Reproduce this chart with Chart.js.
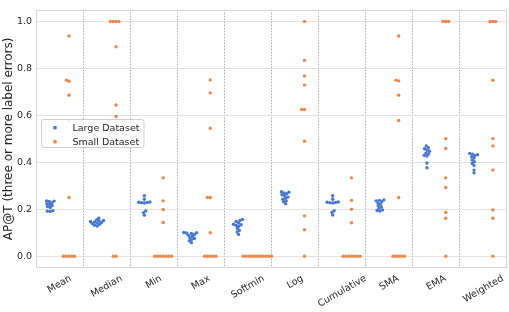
<!DOCTYPE html>
<html><head><meta charset="utf-8">
<script src="https://cdn.jsdelivr.net/npm/chart.js@4/dist/chart.umd.min.js"></script>
<style>html,body{margin:0;padding:0;background:#fff}#wrap{width:509px;height:312px}</style>
</head><body><div id="wrap"><canvas id="c" width="509" height="312"></canvas></div>
<script>
const categories = ['Mean','Median','Min','Max','Softmin','Log','Cumulative','SMA','EMA','Weighted'];
const seriesNames = ['Large Dataset','Small Dataset'];
const yTitle = 'AP@T (three or more label errors)';
const yTickValues = [0, 0.2, 0.4, 0.6, 0.8, 1.0];
const yTickLabels = ['0.0','0.2','0.4','0.6','0.8','1.0'];

const largeMean = [0.236,0.235,0.233,0.228,0.224,0.221,0.216,0.212,0.208,0.194,0.192,0.191];
const largeMedian = [0.162,0.155,0.152,0.150,0.148,0.146,0.144,0.142,0.139,0.136,0.132,0.129];
const largeMin = [0.258,0.243,0.231,0.230,0.229,0.228,0.227,0.193,0.186,0.175];
const largeMax = [0.101,0.100,0.099,0.097,0.093,0.090,0.085,0.080,0.076,0.072,0.066,0.058];
const largeSoftmin = [0.157,0.152,0.148,0.142,0.136,0.134,0.131,0.128,0.118,0.110,0.103,0.093];
const largeLog = [0.275,0.273,0.270,0.266,0.262,0.258,0.252,0.247,0.243,0.236,0.232,0.224];
const largeCumulative = [0.258,0.243,0.231,0.230,0.229,0.228,0.227,0.194,0.187,0.176];
const largeSMA = [0.240,0.238,0.236,0.232,0.227,0.222,0.215,0.210,0.204,0.197,0.195,0.193];
const largeEMA = [0.470,0.462,0.458,0.452,0.447,0.440,0.436,0.430,0.427,0.397,0.377];
const largeWeighted = [0.438,0.435,0.432,0.429,0.424,0.418,0.410,0.403,0.395,0.386,0.367,0.355];

const smallMean = [0.938,0.75,0.745,0.686,0.578,0.25,0,0,0,0,0];
const smallMedian = [1,1,1,1,0.892,0.644,0.595,0,0];
const smallMin = [0.334,0.236,0.199,0.144,0,0,0,0,0,0,0];
const smallMax = [0.751,0.696,0.545,0.25,0.25,0.1,0,0,0,0,0];
const smallSoftmin = [0,0,0,0,0,0,0,0,0,0,0];
const smallLog = [1.0,0.834,0.768,0.729,0.625,0.625,0.49,0.172,0.113,0];
const smallCumulative = [0.334,0.238,0.2,0.143,0,0,0,0,0,0,0];
const smallSMA = [0.938,0.75,0.747,0.686,0.578,0.25,0,0,0,0,0];
const smallEMA = [1,1,1,0.501,0.459,0.334,0.293,0.187,0.162,0];
const smallWeighted = [1,1,1,0.75,0.501,0.47,0.367,0.197,0.162,0];

const largeValues = [largeMean,largeMedian,largeMin,largeMax,largeSoftmin,largeLog,largeCumulative,largeSMA,largeEMA,largeWeighted];
const smallValues = [smallMean,smallMedian,smallMin,smallMax,smallSoftmin,smallLog,smallCumulative,smallSMA,smallEMA,smallWeighted];
const seriesValues = [largeValues, smallValues];
const colors = ['#4878d0','#ee854a'];
const dodge = [-0.2, 0.2];
const R = 1.35; // collision radius in px
const TEXT = '#262626';
const FONT = "'DejaVu Sans', sans-serif";
Chart.defaults.font.family = FONT;

function swarmOffsets(vals, yPix, r) {
  const idx = vals.map((v,i)=>i).sort((a,b)=>vals[a]-vals[b]);
  const placed = [];
  const out = new Array(vals.length).fill(0);
  idx.forEach((k, n) => {
    const y = yPix(vals[k]);
    if (n === 0) { placed.push({x:0,y}); out[k] = 0; return; }
    const nb = [];
    for (let j = placed.length-1; j >= 0; j--) {
      if (Math.abs(y - placed[j].y) < 2*r) nb.push(placed[j]); else break;
    }
    nb.reverse();
    const cand = [0]; let lf = true;
    for (const p of nb) {
      const dy = y - p.y;
      const dx = Math.sqrt(Math.max(4*r*r - dy*dy, 0)) * 1.05;
      const cl = p.x - dx, cr = p.x + dx;
      if (lf) cand.push(cl, cr); else cand.push(cr, cl);
      lf = !lf;
    }
    const order = cand.map((c,i)=>i).sort((a,b)=>(Math.abs(cand[a])-Math.abs(cand[b])) || (a-b));
    let chosen = cand[order[0]];
    for (const o of order) {
      const c = cand[o];
      if (nb.every(p => (c-p.x)*(c-p.x) + (y-p.y)*(y-p.y) >= 4*r*r - 1e-6)) { chosen = c; break; }
    }
    placed.push({x:chosen, y}); out[k] = chosen;
  });
  return out;
}

function basePoints(h) {
  const pts = [];
  seriesValues[h].forEach((vals,i)=>vals.forEach(v=>pts.push({x:i+dodge[h], y:v})));
  return pts;
}

const dividers = categories.map((c,i)=>i-0.5).concat([categories.length-0.5]);

const framePlugin = {
  id: 'frame',
  beforeDatasetsDraw(chart) {
    const {ctx, chartArea:a} = chart;
    ctx.save();
    ctx.strokeStyle = '#d4d4d4'; ctx.lineWidth = 1;
    ctx.strokeRect(Math.round(a.left)+0.5, Math.round(a.top)+0.5, Math.round(a.right-a.left)-1, Math.round(a.bottom-a.top)-1);
    ctx.restore();
  },
  afterDraw(chart) {
    const {ctx, chartArea:a} = chart;
    const xs = chart.scales.x;
    ctx.save();
    ctx.fillStyle = TEXT;
    ctx.font = "9.5px " + FONT;
    const ang = Math.PI/6;
    categories.forEach((c,i)=>{
      const x = xs.getPixelForValue(i);
      const w = ctx.measureText(c).width;
      const h = 9.5*1.17;
      const bh = w*Math.sin(ang) + h*Math.cos(ang);
      const cy = a.bottom + 5 + bh/2;
      ctx.save();
      ctx.translate(x, cy);
      ctx.rotate(-ang);
      ctx.textAlign = 'center'; ctx.textBaseline = 'middle';
      ctx.fillText(c, 0, 0);
      ctx.restore();
    });
    // legend
    const lx = a.left + 5.5, ly = 119.5, lw = 102.5, lh = 28;
    ctx.beginPath();
    if (ctx.roundRect) ctx.roundRect(lx, ly, lw, lh, 2.5); else ctx.rect(lx, ly, lw, lh);
    ctx.fillStyle = 'rgba(255,255,255,0.85)';
    ctx.fill();
    ctx.strokeStyle = '#d0d0d0'; ctx.lineWidth = 1; ctx.stroke();
    seriesNames.forEach((n,h)=>{
      const yy = ly + 8.2 + h*14;
      ctx.beginPath(); ctx.arc(lx + 13.5, yy, 1.9, 0, Math.PI*2);
      ctx.fillStyle = colors[h]; ctx.fill();
      ctx.fillStyle = TEXT; ctx.font = "9.5px " + FONT;
      ctx.textAlign = 'left'; ctx.textBaseline = 'middle';
      ctx.fillText(n, lx + 31, yy + 0.5);
    });
    ctx.restore();
  }
};

const chart = new Chart(document.getElementById('c'), {
  type: 'scatter',
  data: { datasets: seriesNames.map((n,h)=>({
    label: n, data: basePoints(h), backgroundColor: colors[h], borderWidth: 0,
    pointRadius: 1.7, pointHoverRadius: 1.7, pointBorderWidth: 0
  }))},
  options: {
    responsive: false, animation: false, devicePixelRatio: 1, events: [],
    layout: { padding: { top: 2, right: 2, left: 0, bottom: 0 } },
    plugins: { legend: { display: false }, tooltip: { enabled: false } },
    scales: {
      x: {
        type: 'linear', min: -0.5, max: categories.length-0.5,
        afterBuildTicks: s => { s.ticks = dividers.map(v=>({value:v})); },
        ticks: { display: false },
        grid: { drawTicks: false, lineWidth: 1,
          color: c => (c.tick && (c.tick.value < 0 || c.tick.value > categories.length-1)) ? 'rgba(0,0,0,0)' : '#a9a9a9' },
        border: { display: false, dash: [1.5, 1.5] },
        afterFit: s => { s.height = 44; }
      },
      y: {
        min: -0.05, max: 1.05,
        afterBuildTicks: s => { s.ticks = yTickValues.map(v=>({value:v})); },
        ticks: { callback: (v,i) => yTickLabels[i], font: { size: 9.5 }, color: TEXT, padding: 4 },
        grid: { drawTicks: false, color: '#e2e2e2', lineWidth: 1 },
        border: { display: false },
        title: { display: true, text: yTitle, font: { size: 12 }, color: TEXT, padding: { top: 2, bottom: 0 } },
        afterFit: s => { s.width = 36; }
      }
    }
  },
  plugins: [framePlugin]
});

(function applySwarm() {
  const xs = chart.scales.x, ys = chart.scales.y;
  const ppu = xs.getPixelForValue(1) - xs.getPixelForValue(0);
  chart.data.datasets.forEach((ds,h)=>{
    const pts = [];
    seriesValues[h].forEach((vals,i)=>{
      const offs = swarmOffsets(vals, v=>ys.getPixelForValue(v), R);
      vals.forEach((v,k)=>pts.push({x: i + dodge[h] + offs[k]/ppu, y: v}));
    });
    ds.data = pts;
  });
  chart.update('none');
})();
</script></body></html>
